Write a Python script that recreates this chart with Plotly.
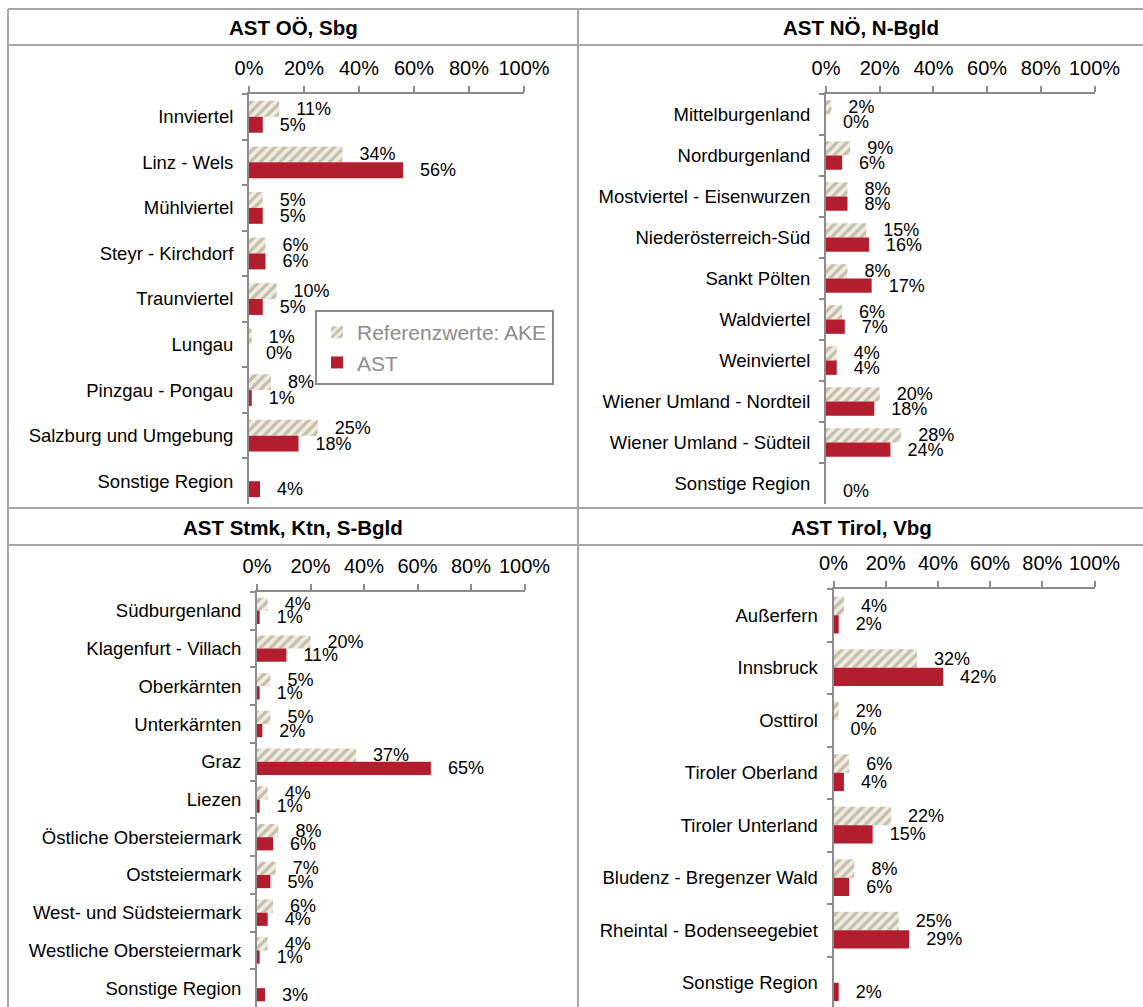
import plotly.graph_objects as go

W, H = 1143, 1007

# ---------------- data ----------------
titles = ["AST OÖ, Sbg", "AST NÖ, N-Bgld", "AST Stmk, Ktn, S-Bgld", "AST Tirol, Vbg"]

cats1 = ["Innviertel", "Linz - Wels", "Mühlviertel", "Steyr - Kirchdorf", "Traunviertel",
         "Lungau", "Pinzgau - Pongau", "Salzburg und Umgebung", "Sonstige Region"]
ake1 = [11, 34, 5, 6, 10, 1, 8, 25, None]
ast1 = [5, 56, 5, 6, 5, 0, 1, 18, 4]

cats2 = ["Mittelburgenland", "Nordburgenland", "Mostviertel - Eisenwurzen", "Niederösterreich-Süd",
         "Sankt Pölten", "Waldviertel", "Weinviertel", "Wiener Umland - Nordteil",
         "Wiener Umland - Südteil", "Sonstige Region"]
ake2 = [2, 9, 8, 15, 8, 6, 4, 20, 28, None]
ast2 = [0, 6, 8, 16, 17, 7, 4, 18, 24, 0]

cats3 = ["Südburgenland", "Klagenfurt - Villach", "Oberkärnten", "Unterkärnten", "Graz", "Liezen",
         "Östliche Obersteiermark", "Oststeiermark", "West- und Südsteiermark",
         "Westliche Obersteiermark", "Sonstige Region"]
ake3 = [4, 20, 5, 5, 37, 4, 8, 7, 6, 4, None]
ast3 = [1, 11, 1, 2, 65, 1, 6, 5, 4, 1, 3]

cats4 = ["Außerfern", "Innsbruck", "Osttirol", "Tiroler Oberland", "Tiroler Unterland",
         "Bludenz - Bregenzer Wald", "Rheintal - Bodenseegebiet", "Sonstige Region"]
ake4 = [4, 32, 2, 6, 22, 8, 25, None]
ast4 = [2, 42, 0, 4, 15, 6, 29, 2]

x_ticks = [0, 20, 40, 60, 80, 100]
x_ticktext = ["0%", "20%", "40%", "60%", "80%", "100%"]
series_names = ["Referenzwerte: AKE", "AST"]

# ---------------- style ----------------
FONT = "Liberation Sans, Arial, Helvetica, sans-serif"
RED = "#b31e2e"
HATCH_FG = "#c6bda6"
HATCH_BG = "#efece4"
AXIS_COL = "#8c8c8c"
FRAME_COL = "#a6a6a6"
PAD = "\u2002\u00a0"

panels = [
    dict(cats=cats1, ake=ake1, ast=ast1, x0=249, x1=524, y0=94, y1=504, rng=None),
    dict(cats=cats2, ake=ake2, ast=ast2, x0=826, x1=1094.5, y0=94, y1=504, rng=None),
    dict(cats=cats3, ake=ake3, ast=ast3, x0=257, x1=524.5, y0=592, y1=1007, rng=None),
    dict(cats=cats4, ake=ake4, ast=ast4, x0=833.5, x1=1094.5, y0=589, y1=1007, rng=7.462),
]


def lbl(vals):
    return ["" if v is None else f"{PAD}{v}%" for v in vals]


fig = go.Figure()
layout = {}
for i, p in enumerate(panels, start=1):
    sx = "" if i == 1 else str(i)
    fig.add_trace(go.Bar(
        y=p["cats"], x=p["ake"], orientation="h", name=series_names[0],
        xaxis="x" + sx, yaxis="y" + sx, showlegend=(i == 1), legendrank=1,
        marker=dict(color=HATCH_BG, line=dict(width=0),
                    pattern=dict(shape="/", fgcolor=HATCH_FG, bgcolor=HATCH_BG,
                                 size=7, solidity=0.45, fillmode="replace")),
        text=lbl(p["ake"]), textposition="outside", constraintext="none",
        textangle=0, cliponaxis=False,
        textfont=dict(family=FONT, size=18, color="#000000"),
        hoverinfo="skip",
    ))
    fig.add_trace(go.Bar(
        y=p["cats"], x=p["ast"], orientation="h", name=series_names[1],
        xaxis="x" + sx, yaxis="y" + sx, showlegend=(i == 1), legendrank=2,
        marker=dict(color=RED, line=dict(width=0)),
        text=lbl(p["ast"]), textposition="outside", constraintext="none",
        textangle=0, cliponaxis=False,
        textfont=dict(family=FONT, size=18, color="#000000"),
        hoverinfo="skip",
    ))
    n = len(p["cats"])
    bottom = p["rng"] if p["rng"] is not None else n - 0.5
    layout["xaxis" + sx] = dict(
        domain=[p["x0"] / W, p["x1"] / W], anchor="y" + sx, side="top",
        range=[0, 100], tickmode="array", tickvals=x_ticks, ticktext=x_ticktext,
        ticks="outside", ticklen=6, tickwidth=2, tickcolor=AXIS_COL,
        ticklabelstandoff=3, automargin=False,
        showline=True, linecolor=AXIS_COL, linewidth=2, showgrid=False, zeroline=False,
        tickfont=dict(family=FONT, size=20, color="#000000"), fixedrange=True,
    )
    layout["yaxis" + sx] = dict(
        domain=[1 - p["y1"] / H, 1 - p["y0"] / H], anchor="x" + sx,
        type="category", categoryorder="array", categoryarray=p["cats"],
        range=[bottom, -0.5], tickson="boundaries", automargin=False,
        ticks="outside", ticklen=5, tickwidth=2, tickcolor=AXIS_COL,
        ticklabelstandoff=10,
        showline=True, linecolor=AXIS_COL, linewidth=2, showgrid=False, zeroline=False,
        tickfont=dict(family=FONT, size=18.5, color="#000000"), fixedrange=True,
    )


# frame lines (pixel -> paper)
def hline(py, px0=8, px1=W):
    return dict(type="line", xref="paper", yref="paper", x0=px0 / W, x1=px1 / W,
                y0=1 - py / H, y1=1 - py / H, line=dict(color=FRAME_COL, width=2))


def vline(px, py0=9, py1=H):
    return dict(type="line", xref="paper", yref="paper", x0=px / W, x1=px / W,
                y0=1 - py0 / H, y1=1 - py1 / H, line=dict(color=FRAME_COL, width=2))


shapes = [hline(9), hline(45), hline(508), hline(545), vline(8), vline(578)]

title_pos = [(293, 28), (861, 28), (293, 527), (861, 527)]
annotations = [
    dict(text=f"<b>{t}</b>", x=px / W, y=1 - py / H, xref="paper", yref="paper",
         xanchor="center", yanchor="middle", showarrow=False,
         font=dict(family=FONT, size=20.5, color="#000000"))
    for t, (px, py) in zip(titles, title_pos)
]

fig.update_layout(
    width=W, height=H, autosize=False,
    margin=dict(l=0, r=0, t=0, b=0, pad=0, autoexpand=False),
    paper_bgcolor="white", plot_bgcolor="white",
    barmode="group", bargap=0.3, bargroupgap=0,
    font=dict(family=FONT, size=18, color="#000000"),
    shapes=shapes, annotations=annotations,
    legend=dict(x=315 / W, y=1 - 310 / H, xanchor="left", yanchor="top",
                bgcolor="white", bordercolor="#8a8a8a", borderwidth=2,
                font=dict(family=FONT, size=21, color="#8c8c8c"),
                traceorder="normal", itemwidth=30, tracegroupgap=0),
    **layout,
)

fig.write_html("out.html", config={"displayModeBar": False, "responsive": False},
               post_script="document.body.style.margin='0';document.body.style.overflow='hidden';")
